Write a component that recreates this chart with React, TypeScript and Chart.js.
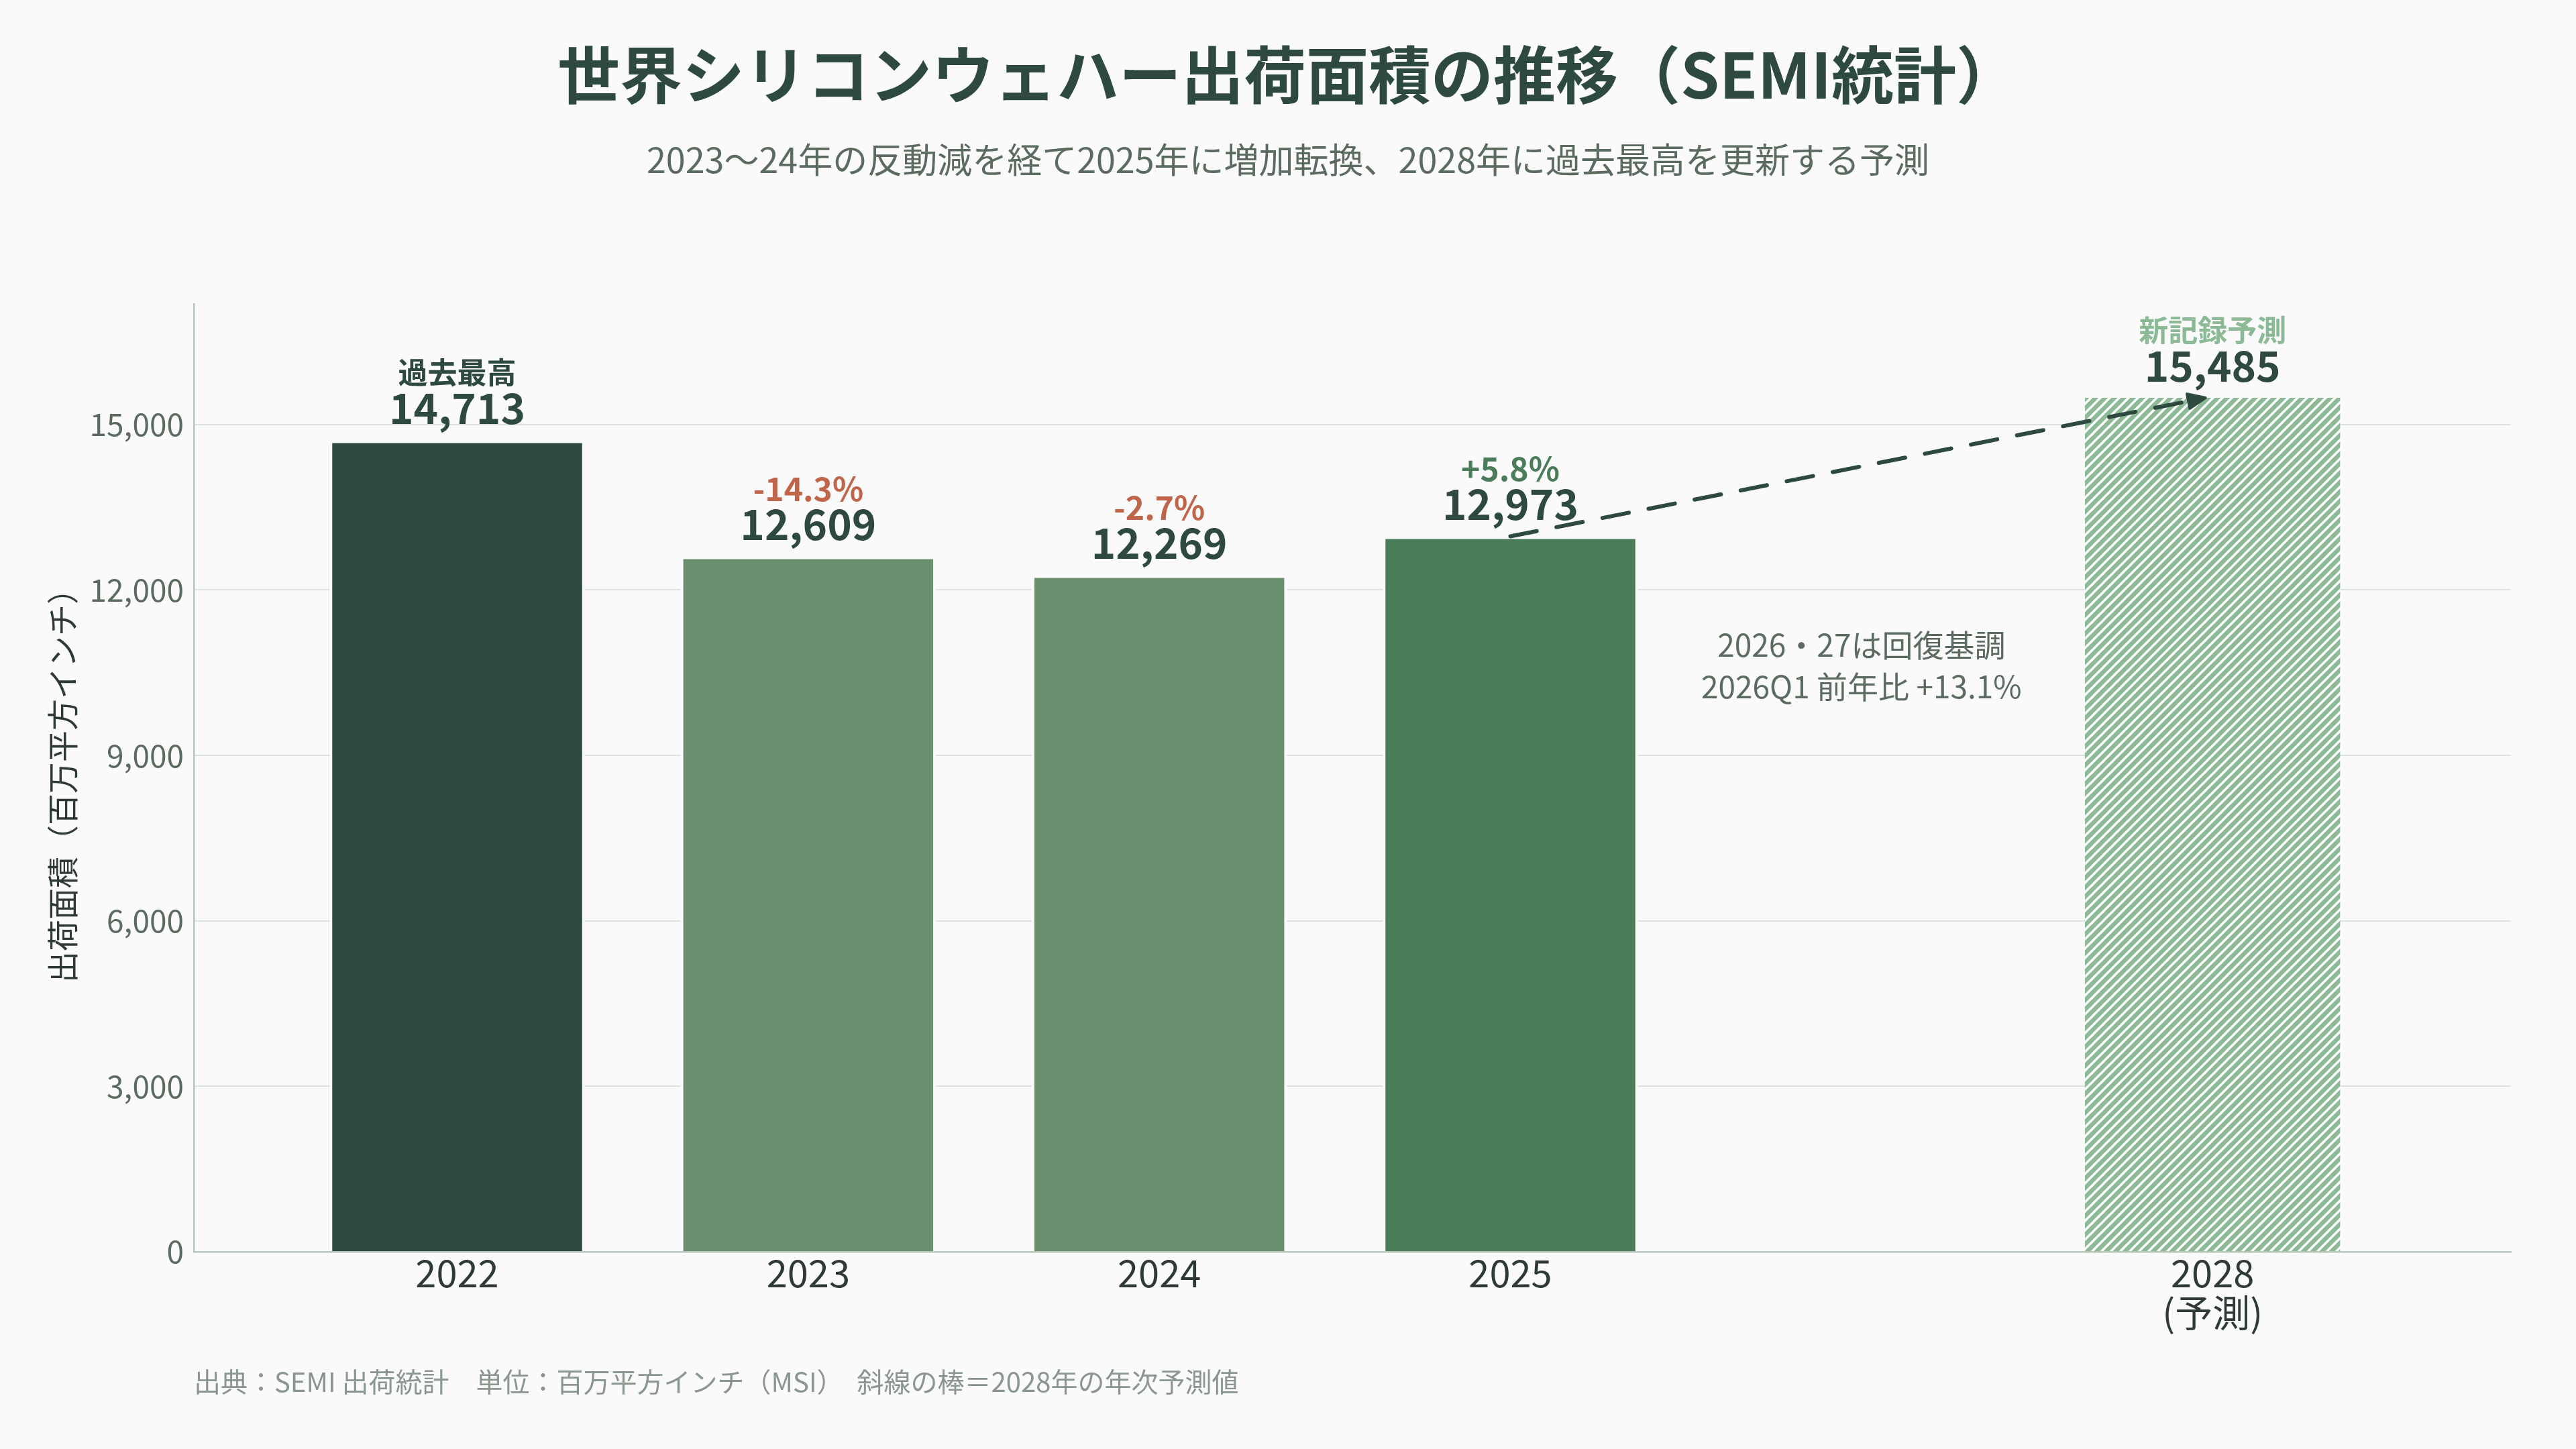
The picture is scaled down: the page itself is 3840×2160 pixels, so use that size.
import React, { useEffect, useRef } from 'react';
import { Chart, registerables } from 'chart.js';

Chart.register(...registerables);

const FONT = "'Noto Sans CJK JP', 'Noto Sans', sans-serif";

// ---- data ----
const categories = ['2022', '2023', '2024', '2025', '', '2028'];
const shipmentValues: (number | null)[] = [14713, 12609, 12269, 12973, null, 15485];
const changeNotes = ['過去最高', '-14.3%', '-2.7%', '+5.8%', '', '新記録予測'];
const forecastTag = '(予測)';
const yTickValues = [0, 3000, 6000, 9000, 12000, 15000];
const annotationLines = ['2026・27は回復基調', '2026Q1 前年比 +13.1%'];
const titleText = '世界シリコンウェハー出荷面積の推移（SEMI統計）';
const subtitleText = '2023〜24年の反動減を経て2025年に増加転換、2028年に過去最高を更新する予測';
const yAxisTitle = '出荷面積（百万平方インチ）';
const footerText = '出典：SEMI 出荷統計　単位：百万平方インチ（MSI）　斜線の棒＝2028年の年次予測値';

const lastActualIndex = 3;
const forecastIndex = 5;
const annotationIndex = 4;

// ---- styles ----
const C = {
  bg: '#FAFAFA',
  dark: '#2E4A3E',
  mid: '#6B9070',
  recent: '#4A7C59',
  forecast: '#8DBA96',
  neg: '#C0654A',
  pos: '#4A7C59',
  sub: '#5B6B60',
  axisText: '#2E3A33',
  footer: '#8A968E',
  grid: '#DCE3DE',
  axis: '#B8C4BC',
};
const barFillByIndex = [C.dark, C.mid, C.mid, C.recent, '', 'hatch'];

function makeHatch(bg: string, line: string) {
  const s = 14;
  const c = document.createElement('canvas');
  c.width = s;
  c.height = s;
  const g = c.getContext('2d')!;
  g.fillStyle = bg;
  g.fillRect(0, 0, s, s);
  g.strokeStyle = line;
  g.lineWidth = 3.4;
  g.beginPath();
  g.moveTo(0, s);
  g.lineTo(s, 0);
  g.moveTo(-s / 2, s / 2);
  g.lineTo(s / 2, -s / 2);
  g.moveTo(s / 2, s * 1.5);
  g.lineTo(s * 1.5, s / 2);
  g.stroke();
  return g.createPattern(c, 'repeat');
}

function noteColor(note: string, i: number) {
  if (i === forecastIndex) return C.forecast;
  if (note.startsWith('-')) return C.neg;
  if (note.startsWith('+')) return C.pos;
  return C.dark;
}

const bgPlugin = {
  id: 'bgFill',
  beforeDraw(chart: any) {
    const { ctx, width, height } = chart;
    ctx.save();
    ctx.fillStyle = C.bg;
    ctx.fillRect(0, 0, width, height);
    ctx.restore();
  },
};

const overlayPlugin = {
  id: 'overlay',
  afterDatasetsDraw(chart: any) {
    const { ctx, scales } = chart;
    const x = scales.x;
    const y = scales.y;
    ctx.save();

    // dashed trend arrow 2025 -> 2028
    const x0 = x.getPixelForValue(lastActualIndex);
    const y0 = y.getPixelForValue(shipmentValues[lastActualIndex] as number);
    const x1 = x.getPixelForValue(forecastIndex - 0.02);
    const y1 = y.getPixelForValue(shipmentValues[forecastIndex] as number);
    const ang = Math.atan2(y1 - y0, x1 - x0);
    const head = 26;
    const bx = x1 - Math.cos(ang) * head;
    const by = y1 - Math.sin(ang) * head;
    ctx.strokeStyle = C.dark;
    ctx.fillStyle = C.dark;
    ctx.lineWidth = 6;
    ctx.lineCap = 'round';
    ctx.setLineDash([40, 30]);
    ctx.beginPath();
    ctx.moveTo(x0, y0);
    ctx.lineTo(bx, by);
    ctx.stroke();
    ctx.setLineDash([]);
    ctx.lineJoin = 'round';
    ctx.lineWidth = 4;
    const hw = 11;
    ctx.beginPath();
    ctx.moveTo(x1, y1);
    ctx.lineTo(bx + Math.sin(ang) * hw, by - Math.cos(ang) * hw);
    ctx.lineTo(bx - Math.sin(ang) * hw, by + Math.cos(ang) * hw);
    ctx.closePath();
    ctx.fill();
    ctx.stroke();

    // value and note labels
    ctx.textAlign = 'center';
    ctx.textBaseline = 'middle';
    categories.forEach((_, i) => {
      const v = shipmentValues[i];
      if (v == null) return;
      const px = x.getPixelForValue(i);
      const py = y.getPixelForValue(v);
      ctx.font = `700 62px ${FONT}`;
      ctx.fillStyle = C.dark;
      ctx.fillText(v.toLocaleString('en-US'), px, py - 48);
      const note = changeNotes[i];
      if (note) {
        const isPct = note.startsWith('-') || note.startsWith('+');
        ctx.font = `700 ${isPct ? 48 : 44}px ${FONT}`;
        ctx.fillStyle = noteColor(note, i);
        ctx.fillText(note, px, py - 101);
      }
    });

    // annotation in the 2026-27 gap
    const ax = x.getPixelForValue(annotationIndex);
    const ay = y.getPixelForValue(10630);
    ctx.font = `400 46px ${FONT}`;
    ctx.fillStyle = C.sub;
    const lh = 62;
    annotationLines.forEach((t, k) => {
      ctx.fillText(t, ax, ay + (k - (annotationLines.length - 1) / 2) * lh);
    });
    ctx.restore();
  },
  afterDraw(chart: any) {
    const { ctx, chartArea } = chart;
    ctx.save();
    ctx.font = `400 40px ${FONT}`;
    ctx.fillStyle = C.footer;
    ctx.textAlign = 'left';
    ctx.textBaseline = 'middle';
    ctx.fillText(footerText, chartArea.left, 2060);
    ctx.restore();
  },
};

export default function App() {
  const ref = useRef<HTMLCanvasElement | null>(null);

  useEffect(() => {
    const canvas = ref.current;
    if (!canvas) return;
    const hatch = makeHatch(C.forecast, '#FFFFFF');
    const idx = categories.map((_, i) => i).filter((i) => shipmentValues[i] != null);
    const points = idx.map((i) => ({ x: i, y: shipmentValues[i] as number }));
    const fills = idx.map((i) => (barFillByIndex[i] === 'hatch' ? hatch : barFillByIndex[i]));
    const borders = idx.map((i) => (i === forecastIndex ? 0 : 4));

    const chart = new Chart(canvas, {
      type: 'bar',
      data: {
        datasets: [
          {
            label: '出荷面積',
            data: points as any,
            backgroundColor: fills as any,
            borderColor: C.bg,
            borderWidth: borders,
            borderSkipped: 'start',
            barPercentage: 0.727,
            categoryPercentage: 1,
          },
        ],
      },
      options: {
        responsive: false,
        devicePixelRatio: 1,
        animation: false,
        events: [],
        layout: { padding: { left: 97, right: 97, top: 0, bottom: 0 } },
        plugins: {
          legend: { display: false },
          tooltip: { enabled: false },
          title: {
            display: true,
            text: titleText,
            color: C.dark,
            font: { family: FONT, size: 93, weight: 'bold', lineHeight: 1.2 },
            padding: { top: 56, bottom: 0 },
          },
          subtitle: {
            display: true,
            text: subtitleText,
            color: C.sub,
            font: { family: FONT, size: 52, weight: 'normal', lineHeight: 1.2 },
            padding: { top: 39, bottom: 184 },
          },
        },
        scales: {
          x: {
            type: 'linear',
            min: -0.75,
            max: 5.85,
            offset: false,
            grid: { display: false, offset: false, drawTicks: false },
            border: { display: true, color: C.axis, width: 2.5 },
            afterBuildTicks: (scale: any) => {
              scale.ticks = categories
                .map((c, i) => ({ c, i }))
                .filter((o) => o.c !== '')
                .map((o) => ({ value: o.i }));
            },
            afterFit: (scale: any) => {
              scale.height = 294;
            },
            ticks: {
              autoSkip: false,
              maxRotation: 0,
              padding: 2,
              color: C.axisText,
              font: { family: FONT, size: 56, lineHeight: 1.06 },
              callback: (v: any) => {
                const i = Math.round(Number(v));
                const label = categories[i] ?? '';
                return i === forecastIndex ? [label, forecastTag] : label;
              },
            },
          },
          y: {
            type: 'linear',
            min: 0,
            max: 17188,
            grid: { color: C.grid, lineWidth: 2, drawTicks: false },
            border: { display: true, color: C.axis, width: 2.5 },
            afterBuildTicks: (scale: any) => {
              scale.ticks = yTickValues.map((v) => ({ value: v }));
            },
            afterFit: (scale: any) => {
              scale.width = 192;
            },
            ticks: {
              padding: 15,
              color: C.sub,
              font: { family: FONT, size: 46 },
              callback: (v: any) => Number(v).toLocaleString('en-US'),
            },
            title: {
              display: true,
              text: yAxisTitle,
              color: C.axisText,
              font: { family: FONT, size: 47, lineHeight: 1.2 },
              padding: { top: -32.2, bottom: 0 },
            },
          },
        },
      },
      plugins: [bgPlugin, overlayPlugin],
    } as any);

    return () => {
      chart.destroy();
    };
  }, []);

  return (
    <div style={{ position: 'fixed', left: 0, top: 0, width: 3840, height: 2160, background: C.bg }}>
      <canvas ref={ref} width={3840} height={2160} style={{ display: 'block', width: 3840, height: 2160 }} />
    </div>
  );
}
